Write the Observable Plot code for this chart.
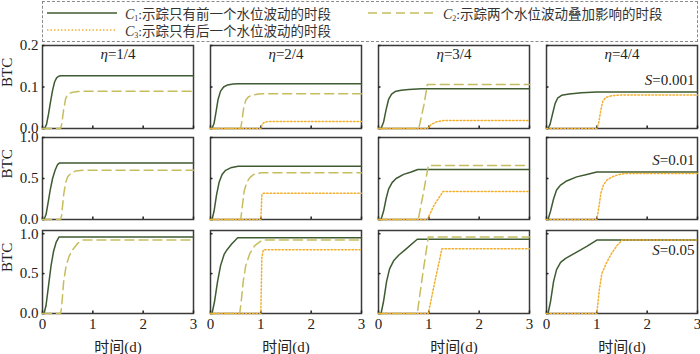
<!DOCTYPE html>
<html>
<head>
<meta charset="utf-8">
<script src="https://cdn.jsdelivr.net/npm/d3@7"></script>
<script src="https://cdn.jsdelivr.net/npm/@observablehq/plot@0.6"></script>
<style>
  html, body { margin: 0; padding: 0; background: #fff; }
  #wrap { position: relative; width: 700px; height: 354px; overflow: hidden;
          font-family: "Liberation Serif", "Noto Sans CJK SC", serif; }
  .row { position: absolute; left: 0; }
  .row svg { overflow: visible; }
  #legend { position: absolute; left: 42px; top: 1px; width: 654px; height: 39px;
            border: 1px dashed #8a8a8a; font-size: 13.5px; color: #333; }
  .item { position: absolute; display: flex; align-items: center; white-space: nowrap; height: 14px; }
  .item svg { margin-right: 8px; }
  .it { font-style: italic; font-size: 14px; }
  sub { font-size: 8px; vertical-align: -2px; }
</style>
</head>
<body>
<div id="wrap">
  <div id="legend"></div>
</div>
<script>
// ---------------- data ----------------
const etas = ["1/4", "2/4", "3/4", "4/4"];
const seriesNames = ["C1", "C2", "C3"];
const seriesLabels = ["示踪只有前一个水位波动的时段", "示踪两个水位波动叠加影响的时段", "示踪只有后一个水位波动的时段"];
const seriesColors = ["#3e5b31", "#c6bd5e", "#f2b02e"];
const xTicks = [0, 1, 2, 3];
const sLabels = ["0.001", "0.01", "0.05"];

// S = 0.001 : [time (d), BTC]
const S001_C1 = {
  "1/4": [[0,0],[0.04,0],[0.08,0.01],[0.12,0.035],[0.16,0.065],[0.2,0.092],[0.24,0.112],[0.28,0.122],[0.32,0.126],[0.36,0.127],[3,0.127]],
  "2/4": [[0,0],[0.03,0],[0.07,0.012],[0.11,0.04],[0.15,0.07],[0.2,0.09],[0.26,0.1],[0.34,0.105],[0.45,0.107],[0.55,0.108],[3,0.108]],
  "3/4": [[0,0],[0.05,0],[0.1,0.015],[0.15,0.045],[0.2,0.07],[0.26,0.083],[0.33,0.089],[0.45,0.092],[0.6,0.094],[0.85,0.096],[3,0.096]],
  "4/4": [[0,0],[0.03,0],[0.07,0.01],[0.12,0.035],[0.17,0.06],[0.22,0.073],[0.3,0.08],[0.45,0.083],[0.7,0.086],[1.0,0.088],[3,0.088]]
};
const S001_C2 = {
  "1/4": [[0,0],[0.36,0],[0.38,0.01],[0.42,0.045],[0.46,0.072],[0.5,0.082],[0.56,0.086],[0.7,0.089],[0.85,0.09],[3,0.09]],
  "2/4": [[0,0],[0.6,0],[0.62,0.015],[0.66,0.05],[0.7,0.068],[0.75,0.076],[0.82,0.08],[0.95,0.083],[1.05,0.084],[3,0.084]],
  "3/4": [[0,0],[0.8,0],[0.9,0.055],[0.97,0.106],[3,0.106]]
};
const S001_C3 = {
  "2/4": [[0,0],[1.0,0],[1.03,0.011],[1.07,0.015],[1.15,0.017],[3,0.017]],
  "3/4": [[0,0],[0.97,0],[1.05,0.01],[1.15,0.016],[1.28,0.019],[3,0.019]],
  "4/4": [[0,0],[1.0,0],[1.04,0.015],[1.08,0.045],[1.12,0.066],[1.18,0.075],[1.3,0.079],[1.5,0.081],[3,0.081]]
};

// S = 0.01
const S01_C1 = {
  "1/4": [[0,0],[0.03,0],[0.07,0.06],[0.11,0.2],[0.15,0.35],[0.2,0.5],[0.25,0.6],[0.3,0.67],[0.34,0.69],[3,0.69]],
  "2/4": [[0,0],[0.03,0],[0.07,0.1],[0.12,0.3],[0.17,0.45],[0.23,0.55],[0.3,0.6],[0.4,0.63],[0.55,0.65],[3,0.65]],
  "3/4": [[0,0],[0.05,0],[0.1,0.1],[0.15,0.25],[0.2,0.37],[0.27,0.45],[0.35,0.5],[0.5,0.55],[0.65,0.58],[0.78,0.61],[3,0.61]],
  "4/4": [[0,0],[0.03,0],[0.08,0.1],[0.14,0.25],[0.2,0.36],[0.28,0.42],[0.4,0.47],[0.6,0.52],[0.8,0.55],[1.0,0.58],[3,0.58]]
};
const S01_C2 = {
  "1/4": [[0,0],[0.36,0],[0.38,0.05],[0.42,0.3],[0.46,0.45],[0.5,0.52],[0.56,0.56],[0.65,0.59],[0.8,0.6],[3,0.6]],
  "2/4": [[0,0],[0.6,0],[0.63,0.15],[0.67,0.35],[0.72,0.45],[0.78,0.51],[0.86,0.55],[1.0,0.57],[3,0.57]],
  "3/4": [[0,0],[0.79,0],[0.9,0.35],[0.99,0.66],[3,0.66]]
};
const S01_C3 = {
  "2/4": [[0,0],[1.0,0],[1.02,0.3],[1.05,0.32],[3,0.32]],
  "3/4": [[0,0],[0.97,0],[1.1,0.17],[1.28,0.34],[3,0.34]],
  "4/4": [[0,0],[1.0,0],[1.04,0.15],[1.08,0.32],[1.13,0.42],[1.2,0.48],[1.3,0.52],[1.45,0.55],[1.58,0.56],[3,0.56]]
};

// S = 0.05
const S05_C1 = {
  "1/4": [[0,0],[0.03,0],[0.07,0.1],[0.12,0.35],[0.17,0.6],[0.22,0.78],[0.27,0.89],[0.33,0.96],[3,0.96]],
  "2/4": [[0,0],[0.03,0],[0.08,0.15],[0.14,0.4],[0.2,0.6],[0.27,0.74],[0.33,0.8],[0.42,0.87],[0.54,0.95],[3,0.95]],
  "3/4": [[0,0],[0.05,0],[0.1,0.15],[0.16,0.4],[0.22,0.56],[0.3,0.66],[0.4,0.73],[0.55,0.81],[0.77,0.93],[3,0.93]],
  "4/4": [[0,0],[0.03,0],[0.08,0.15],[0.14,0.4],[0.2,0.55],[0.28,0.64],[0.38,0.69],[0.6,0.77],[0.8,0.84],[1.0,0.92],[3,0.92]]
};
const S05_C2 = {
  "1/4": [[0,0],[0.36,0],[0.38,0.08],[0.42,0.4],[0.47,0.6],[0.53,0.72],[0.6,0.8],[0.7,0.88],[0.8,0.92],[3,0.92]],
  "2/4": [[0,0],[0.58,0],[0.61,0.15],[0.65,0.4],[0.7,0.6],[0.78,0.75],[0.88,0.85],[1.03,0.92],[3,0.92]],
  "3/4": [[0,0],[0.77,0],[0.88,0.5],[0.99,0.96],[3,0.96]]
};
const S05_C3 = {
  "2/4": [[0,0],[1.0,0],[1.02,0.7],[1.05,0.8],[3,0.8]],
  "3/4": [[0,0],[0.99,0],[1.12,0.4],[1.26,0.81],[3,0.81]],
  "4/4": [[0,0],[1.0,0],[1.05,0.3],[1.1,0.5],[1.18,0.62],[1.28,0.74],[1.4,0.85],[1.5,0.92],[3,0.92]]
};

const yDomains = [[0, 0.2], [0, 1], [0, 1.04]];
const yTickSets = [[0, 0.1, 0.2], [0, 0.5, 1.0], [0, 0.5, 1.0]];

// ---------------- build ----------------
function flatten(bySeries) {
  const rows = [];
  bySeries.forEach((obj, si) => {
    for (const eta of Object.keys(obj)) {
      for (const [t, v] of obj[eta]) rows.push({eta, t, v, s: seriesNames[si]});
    }
  });
  return rows;
}
const rowsData = [
  flatten([S001_C1, S001_C2, S001_C3]),
  flatten([S01_C1, S01_C2, S01_C3]),
  flatten([S05_C1, S05_C2, S05_C3])
];

const layout = [
  {top: 40, height: 92, mt: 5, mb: 4, sdy: 29},
  {top: 132, height: 92, mt: 5, mb: 5, sdy: 17},
  {top: 224, height: 130, mt: 6, mb: 41, sdy: 14}
];
const dashes = [null, "9,5", "1.5,2"];
const FS = 15;

const wrap = document.getElementById("wrap");

rowsData.forEach((data, r) => {
  const L = layout[r];
  const yMax = yDomains[r][1];
  const marks = [
    Plot.frame({stroke: "#3a3a3a", strokeWidth: 1.5}),
    Plot.ruleY(yTickSets[r], {x1: 0, x2: 0.05, stroke: "#222", strokeWidth: 1.5}),
    Plot.ruleX(xTicks, {y1: 0, y2: yMax * 0.03, stroke: "#222", strokeWidth: 1.5}),
    Plot.axisY({ticks: yTickSets[r], tickSize: 0, tickPadding: 4, tickFormat: d3.format(".1f"), label: null, facetAnchor: "left", fontSize: FS, fill: "#222"}),
    Plot.text(["BTC"], {fx: () => "1/4", text: d => d, frameAnchor: "left", dx: -35, rotate: -90, fontSize: FS, fill: "#222"})
  ];
  seriesNames.forEach((s, si) => {
    marks.push(Plot.line(data.filter(d => d.s === s), {
      x: "t", y: "v", fx: "eta", stroke: seriesColors[si], strokeWidth: 1.5,
      strokeDasharray: dashes[si], curve: "linear"
    }));
  });
  if (r === 0) {
    marks.push(Plot.text(etas, {fx: d => d, text: d => "η=" + d, frameAnchor: "top", dy: 3, fontSize: FS, fill: "#222"}));
  }
  marks.push(Plot.text([sLabels[r]], {fx: () => "4/4", text: d => "S=" + d, frameAnchor: "top-right", dx: -3, dy: L.sdy, textAnchor: "end", fontSize: FS, fill: "#222"}));
  if (r === 2) {
    marks.push(Plot.axisX({ticks: xTicks, tickSize: 0, tickPadding: 5, tickFormat: d3.format("d"), label: null, fontSize: FS, fill: "#222"}));
    marks.push(Plot.text(etas, {fx: d => d, text: () => "时间(d)", frameAnchor: "bottom", dy: 38, fontSize: FS, fill: "#222"}));
  }
  const chart = Plot.plot({
    width: 700, height: L.height,
    marginLeft: 42, marginRight: 2, marginTop: L.mt, marginBottom: L.mb,
    style: {fontFamily: '"Liberation Serif", "Noto Sans CJK SC", serif', fontSize: FS + "px", background: "transparent", overflow: "visible"},
    x: {domain: [0, 3], axis: r === 2 ? undefined : null},
    y: {domain: yDomains[r]},
    fx: {domain: etas, paddingInner: 0.1, paddingOuter: 0, axis: null},
    marks
  });
  // italicize η and S
  chart.querySelectorAll("text").forEach(t => {
    const s = t.textContent;
    if (s.startsWith("η=") || s.startsWith("S=")) {
      const rest = s.slice(1);
      t.textContent = "";
      const a = document.createElementNS("http://www.w3.org/2000/svg", "tspan");
      a.setAttribute("font-style", "italic");
      a.textContent = s[0];
      const b = document.createElementNS("http://www.w3.org/2000/svg", "tspan");
      b.textContent = rest;
      t.appendChild(a); t.appendChild(b);
    }
  });
  const div = document.createElement("div");
  div.className = "row";
  div.style.top = L.top + "px";
  div.appendChild(chart);
  wrap.appendChild(div);
});

// legend
const legend = document.getElementById("legend");
const legendPos = [[4, 4], [325, 4], [4, 21]];
const legendLen = [70, 67, 70];
seriesNames.forEach((s, i) => {
  const it = document.createElement("div");
  it.className = "item";
  it.style.left = legendPos[i][0] + "px";
  it.style.top = legendPos[i][1] + "px";
  const dash = dashes[i] ? `stroke-dasharray="${dashes[i]}"` : "";
  it.innerHTML = `<svg width="${legendLen[i]}" height="14"><line x1="0" y1="7" x2="${legendLen[i]}" y2="7" stroke="${seriesColors[i]}" stroke-width="1.5" ${dash}/></svg>` +
    `<span><span class="it">C</span><sub>${i + 1}</sub>:${seriesLabels[i]}</span>`;
  legend.appendChild(it);
});
</script>
</body>
</html>
